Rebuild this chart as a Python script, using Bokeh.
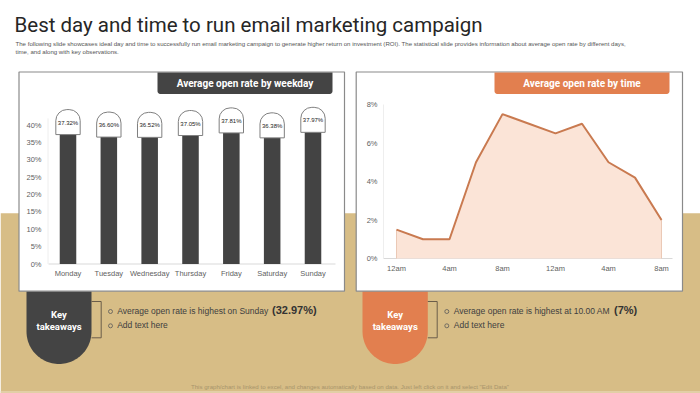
import numpy as np
from bokeh.plotting import figure
from bokeh.models import Range1d
from bokeh.core.properties import value
from bokeh.embed import file_html
from bokeh.resources import INLINE

# ---------------- data ----------------
days = ["Monday", "Tuesday", "Wednesday", "Thursday", "Friday", "Saturday", "Sunday"]
day_open_rate = [37.32, 36.60, 36.52, 37.05, 37.81, 36.38, 37.97]
day_axis_ticks = [0, 5, 10, 15, 20, 25, 30, 35, 40]

hours = [0, 2, 4, 6, 8, 10, 12, 14, 16, 18, 20]
hour_open_rate = [1.5, 1.0, 1.0, 5.0, 7.5, 7.0, 6.5, 7.0, 5.0, 4.2, 2.0]
hour_ticks = [0, 4, 8, 12, 16, 20]
hour_tick_labels = ["12am", "4am", "8am", "12am", "4am", "8am"]
time_axis_ticks = [0, 2, 4, 6, 8]

title_text = "Best day and time to run email marketing campaign"
subtitle_lines = [
    "The following slide showcases ideal day and time to  successfully run email marketing campaign to generate higher return on investment (ROI). The statistical slide provides information about average open rate by different days,",
    "time, and along with key  observations.",
]
left_header = "Average open rate by weekday"
right_header = "Average open rate by time"
left_points = ["Average open rate is highest on Sunday", "Add text here"]
left_highlight = "(32.97%)"
right_points = ["Average open rate is highest at 10.00 AM", "Add text here"]
right_highlight = "(7%)"
footer_text = 'This graph/chart is linked to excel, and changes automatically based on data. Just left click on it and select "Edit Data"'

# ---------------- styling ----------------
TAN = "#D7BD86"
DARK = "#444444"
ORANGE = "#E27F4F"
LINE_C = "#C97A50"
AREA_C = "#FBE4D7"
TICK_C = "#5f5f5f"
AXIS_C = "#d9d9d9"
FONT = "Liberation Sans"
HEAD_FONT = "Roboto"

PX0, PY0, W, H = 0, 0, 700, 393

p = figure(width=W, height=H,
           x_range=Range1d(PX0, PX0 + W), y_range=Range1d(PY0 + H, PY0),
           output_backend="svg", toolbar_location=None,
           x_axis_location=None, y_axis_location=None, min_border=0)
p.grid.visible = False
p.outline_line_color = None
p.background_fill_color = "white"
p.border_fill_color = "white"


def mapped(v_a, px_a, v_b, px_b, px_start, px_end):
    k = (v_b - v_a) / (px_b - px_a)
    return Range1d(start=v_a + (px_start - px_a) * k, end=v_a + (px_end - px_a) * k)


p.extra_x_ranges = {"bx": mapped(0, 67.5, 6, 312.5, PX0, PX0 + W),
                    "lx": mapped(0, 396, 20, 661, PX0, PX0 + W)}
p.extra_y_ranges = {"by": mapped(0, 263.5, 40, 124.8, PY0 + H, PY0),
                    "ly": mapped(0, 258, 8, 104, PY0 + H, PY0)}


def rounded_box(x0, x1, yt, yb, rt=0.0, rb=0.0, n=30):
    xs, ys = [], []
    def arc(cx, cy, r, a0, a1):
        t = np.linspace(a0, a1, n)
        xs.extend(cx + r * np.cos(t)); ys.extend(cy + r * np.sin(t))
    arc(x0 + rt, yt + rt, rt, np.pi, 1.5 * np.pi)
    arc(x1 - rt, yt + rt, rt, 1.5 * np.pi, 2 * np.pi)
    arc(x1 - rb, yb - rb, rb, 0, 0.5 * np.pi)
    arc(x0 + rb, yb - rb, rb, 0.5 * np.pi, np.pi)
    return list(xs), list(ys)


def txt(x, y, s, size, color, font=FONT, style="normal", align="left", baseline="middle", **kw):
    p.text(x=[x] if np.isscalar(x) else x, y=[y] if np.isscalar(y) else y,
           text=[s] if isinstance(s, str) else s,
           text_font=value(font), text_font_size=f"{size}px", text_font_style=style,
           text_color=color, text_align=align, text_baseline=baseline, **kw)


# background band
p.quad(left=PX0, right=PX0 + W, top=212.7, bottom=PY0 + H, fill_color=TAN, line_color=None)
p.quad(left=PX0, right=PX0 + W, top=390.5, bottom=PY0 + H, fill_color="#E2CFA6", line_color=None)

# takeaway shapes
for (x0, x1, col) in [(26, 91, DARK), (362, 427.3, ORANGE)]:
    xs, ys = rounded_box(x0, x1, 289, 363.5, 0, (x1 - x0) / 2)
    p.patch(xs, ys, fill_color=col, line_color=None)

# panels
for (x0, x1) in [(18.5, 344), (355.7, 682)]:
    p.quad(left=x0, right=x1, top=71.5, bottom=290.7, fill_color="white",
           line_color="#8a8a8a", line_width=1.2)

# headers
for (x0, x1, col, label) in [(157, 332, DARK, left_header), (494, 669, ORANGE, right_header)]:
    xs, ys = rounded_box(x0, x1, 72, 93.5, 0, 3)
    p.patch(xs, ys, fill_color=col, line_color=None)
    txt((x0 + x1) / 2, 83.3, label, 10, "white", font=HEAD_FONT, style="bold", align="center")

# ---------- bar chart ----------
idx = list(range(len(days)))
p.segment(x0=[48], y0=[0], x1=[335], y1=[0], line_color=AXIS_C, line_width=1, y_range_name="by")
p.segment(x0=[47.5], y0=[0], x1=[47.5], y1=[42], line_color="#eeeeee", line_width=1, y_range_name="by")
p.vbar(x=idx, top=day_open_rate, bottom=0, width=0.405, fill_color="#434343", line_color=None,
       x_range_name="bx", y_range_name="by")
p.text(x=[41] * len(day_axis_ticks), y=day_axis_ticks, text=[f"{t}%" for t in day_axis_ticks],
       text_font=value(FONT), text_font_size="7.5px", text_color=TICK_C,
       text_align="right", text_baseline="middle", y_range_name="by")
p.text(x=idx, y=[272.7] * len(days), text=days, text_font=value(FONT), text_font_size="7.5px",
       text_color=TICK_C, text_align="center", text_baseline="middle", x_range_name="bx")
p.text(x=idx, y=day_open_rate, text=[f"{v:.2f}%" for v in day_open_rate],
       x_range_name="bx", y_range_name="by",
       anchor=value("bottom_center"), text_align="center", text_baseline="middle",
       text_font=value(FONT), text_font_size="6px", text_color="#222222",
       background_fill_color="white", border_line_color="#7f7f7f", border_line_width=1,
       padding=dict(left=2, right=2, top=10, bottom=9),
       border_radius=dict(top_left=11, top_right=11, bottom_right=0, bottom_left=0))

# ---------- line chart ----------
p.segment(x0=[383], y0=[0], x1=[672], y1=[0], line_color=AXIS_C, line_width=1, y_range_name="ly")
p.segment(x0=[383], y0=[0], x1=[383], y1=[8], line_color="#eeeeee", line_width=1, y_range_name="ly")
p.varea(x=hours, y1=[0] * len(hours), y2=hour_open_rate, fill_color=AREA_C,
        x_range_name="lx", y_range_name="ly")
p.segment(x0=[hours[0], hours[-1]], y0=[0, 0], x1=[hours[0], hours[-1]],
          y1=[hour_open_rate[0], hour_open_rate[-1]], line_color="#EBC9B6", line_width=1,
          x_range_name="lx", y_range_name="ly")
p.line(x=hours, y=hour_open_rate, line_color=LINE_C, line_width=2,
       x_range_name="lx", y_range_name="ly")
p.text(x=[377] * len(time_axis_ticks), y=time_axis_ticks, text=[f"{t}%" for t in time_axis_ticks],
       text_font=value(FONT), text_font_size="7.5px", text_color=TICK_C,
       text_align="right", text_baseline="middle", y_range_name="ly")
p.text(x=hour_ticks, y=[267.5] * len(hour_ticks), text=hour_tick_labels, text_font=value(FONT),
       text_font_size="7.5px", text_color=TICK_C, text_align="center", text_baseline="middle",
       x_range_name="lx")

# ---------- title ----------
txt(14, 24.5, title_text, 20.5, "#262626", font=HEAD_FONT)
txt(15, 43.3, subtitle_lines[0], 6.1, "#555555")
txt(15, 51.0, subtitle_lines[1], 6.1, "#555555")

# ---------- takeaways ----------
for cx in [58.5, 394.7]:
    txt(cx, 314.3, "Key", 9.5, "white", font=HEAD_FONT, style="bold", align="center")
    txt(cx, 325.7, "takeaways", 9.5, "white", font=HEAD_FONT, style="bold", align="center")

for (shape_x1, bx) in [(91, 100.7), (427.3, 436.7)]:
    p.line(x=[shape_x1, bx, bx, shape_x1], y=[301, 301, 337.3, 337.3], line_color="#6b5d4a", line_width=1)

for (bxp, tx, points, hi, hx) in [(110, 116.7, left_points, left_highlight, 271.5),
                                  (446.3, 453.3, right_points, right_highlight, 613.5)]:
    p.scatter(x=[bxp, bxp], y=[311, 325.3], marker="circle", size=4, fill_color=None,
              line_color="#595959", line_width=0.8)
    txt(tx, 310.3, points[0], 8.5, "#404040")
    txt(tx, 324.6, points[1], 8.5, "#404040")
    txt(hx, 309.8, hi, 11, "#333333", style="bold")

# footer
txt(349.5, 386, footer_text, 6.1, "#A8956C", align="center")

open("out.html", "w").write(file_html(p, INLINE))
